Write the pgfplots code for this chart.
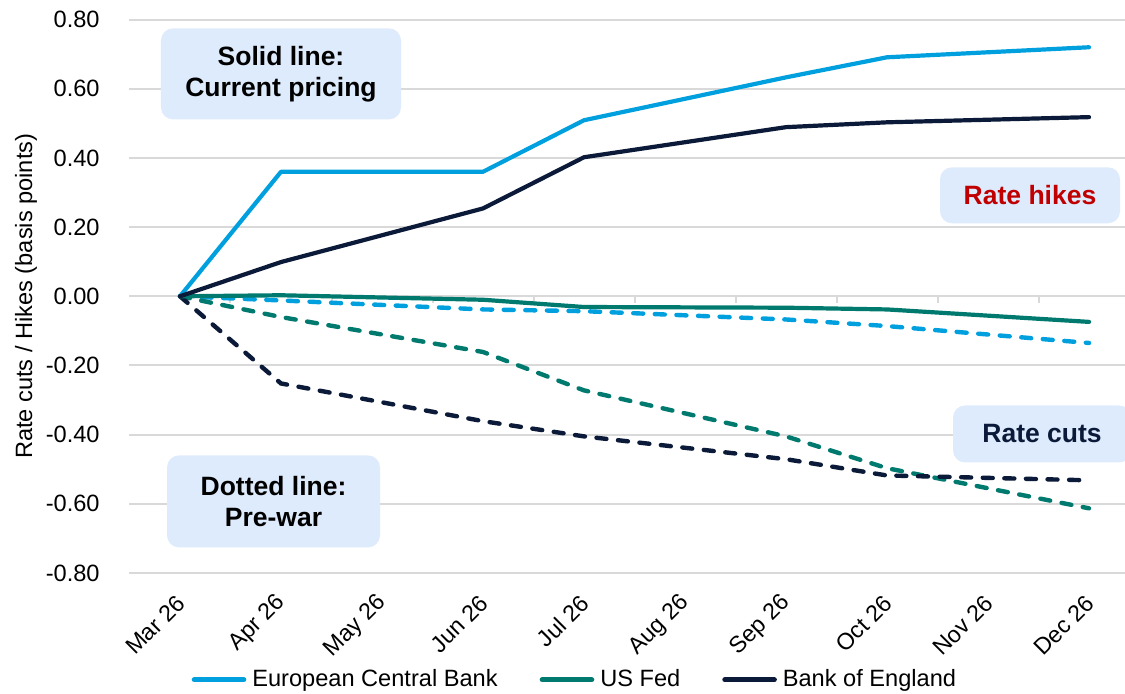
\documentclass[border=0pt]{standalone}
\usepackage{fontspec}
\setmainfont{Liberation Sans}
\usepackage{pgfplots}
\pgfplotsset{compat=1.18}
\definecolor{ecb}{RGB}{0,160,223}
\definecolor{fed}{RGB}{0,122,110}
\definecolor{boe}{RGB}{11,26,56}
\definecolor{gridgray}{RGB}{217,217,217}
\definecolor{boxfill}{RGB}{222,235,252}
\definecolor{hikered}{RGB}{192,0,0}
\pgfplotstableread{
x ecb fed boe
0 0 0 0
1 0.36 0.003 0.099
3 0.36 -0.010 0.254
4 0.509 -0.031 0.402
6 0.633 -0.033 0.489
7 0.691 -0.038 0.503
9 0.720 -0.074 0.518
}\current
\pgfplotstableread{
x ecb fed boe
0 0 0 0
1 -0.012 -0.060 -0.252
3 -0.038 -0.161 -0.361
4 -0.043 -0.272 -0.405
6 -0.067 -0.405 -0.471
7 -0.086 -0.497 -0.518
9 -0.135 -0.613 -0.532
}\prewar
\tikzset{annot/.style={fill=boxfill, rounded corners=6pt, align=center, inner sep=0pt,
  font=\fontsize{13.25}{15.5}\selectfont\bfseries}}
\begin{document}
\begin{tikzpicture}
\path[use as bounding box] (-64.75pt,-60pt) rectangle (497.75pt,286.5pt);
\begin{axis}[
  scale only axis, width=505pt, height=276.7pt,
  xmin=-0.5, xmax=9.5, ymin=-0.8, ymax=0.8,
  clip=false,
  axis line style={draw=none},
  tick style={draw=none},
  ytick={-0.8,-0.6,-0.4,-0.2,0,0.2,0.4,0.6,0.8},
  ymajorgrids, grid style={line width=1pt, gridgray},
  yticklabel style={font=\fontsize{11.8}{14}\selectfont, anchor=east, inner sep=0pt, xshift=-14.75pt,
    /pgf/number format/.cd, fixed, fixed zerofill, precision=2, assume math mode=true},
  xtick={0,1,2,3,4,5,6,7,8,9},
  xticklabels={Mar 26,Apr 26,May 26,Jun 26,Jul 26,Aug 26,Sep 26,Oct 26,Nov 26,Dec 26},
  xticklabel style={font=\fontsize{11.6}{14}\selectfont, xshift=0.5pt, yshift=-13pt, rotate=45, anchor=east, inner sep=0pt},
  ylabel={Rate cuts / Hikes (basis points)},
  every axis y label/.style={at={(axis description cs:-0.1025,0.5)}, rotate=90, anchor=center,
    font=\fontsize{11.8}{14}\selectfont},
  legend columns=3,
  legend style={at={(axis description cs:0.440,-0.193)}, anchor=center, draw=none, fill=none,
    font=\fontsize{11.8}{14}\selectfont, nodes={inner sep=0pt, anchor=west},
    /tikz/every odd column/.append style={column sep=3pt},
    /tikz/every even column/.append style={column sep=21pt}},
  legend image code/.code={\draw[line width=2.6pt, line cap=round] (1.3pt,0pt) -- (26pt,0pt);},
  dashline/.style={line width=2.2pt, line cap=round, dash pattern=on 5pt off 5.8pt, forget plot},
  solidline/.style={line width=2.1pt, line cap=round, line join=round},
]
% small tick marks on the zero line between categories
\draw[gridgray, line width=1pt] (axis cs:0.5,0) -- ++(0pt,-3.5pt);
\draw[gridgray, line width=1pt] (axis cs:1.5,0) -- ++(0pt,-3.5pt);
\draw[gridgray, line width=1pt] (axis cs:2.5,0) -- ++(0pt,-3.5pt);
\draw[gridgray, line width=1pt] (axis cs:3.5,0) -- ++(0pt,-3.5pt);
\draw[gridgray, line width=1pt] (axis cs:4.5,0) -- ++(0pt,-3.5pt);
\draw[gridgray, line width=1pt] (axis cs:5.5,0) -- ++(0pt,-3.5pt);
\draw[gridgray, line width=1pt] (axis cs:6.5,0) -- ++(0pt,-3.5pt);
\draw[gridgray, line width=1pt] (axis cs:7.5,0) -- ++(0pt,-3.5pt);
\draw[gridgray, line width=1pt] (axis cs:8.5,0) -- ++(0pt,-3.5pt);

\addplot[ecb, dashline] table[x=x, y=ecb] {\prewar};
\addplot[fed, dashline] table[x=x, y=fed] {\prewar};
\addplot[boe, dashline] table[x=x, y=boe] {\prewar};

\addplot[ecb, solidline] table[x=x, y=ecb] {\current};
\addlegendentry{European Central Bank}
\addplot[fed, solidline] table[x=x, y=fed] {\current};
\addlegendentry{US Fed}
\addplot[boe, solidline] table[x=x, y=boe] {\current};
\addlegendentry{Bank of England}

\node[annot, minimum width=120pt, minimum height=45.5pt] at (axis cs:1.0,0.643) {Solid line:\\Current pricing};
\node[annot, minimum width=90pt, minimum height=28pt, text=hikered] at (axis cs:8.416,0.292) {Rate hikes};
\node[annot, minimum width=89pt, minimum height=28.5pt, text=boe] at (axis cs:8.535,-0.398) {Rate cuts};
\node[annot, minimum width=106.5pt, minimum height=46pt] at (axis cs:0.926,-0.593) {Dotted line:\\Pre-war};
\end{axis}
\end{tikzpicture}
\end{document}
